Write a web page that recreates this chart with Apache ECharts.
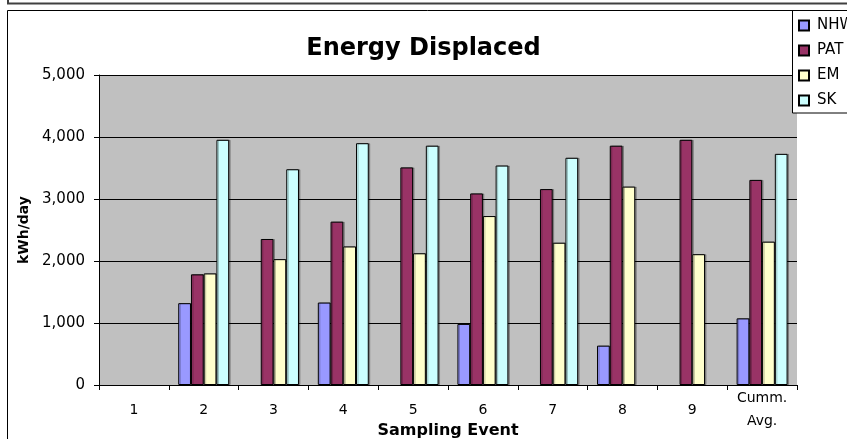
<!DOCTYPE html>
<html>
<head>
<meta charset="utf-8">
<script src="https://cdn.jsdelivr.net/npm/echarts@6/dist/echarts.min.js"></script>
<style>
html,body{margin:0;padding:0;background:#fff;}
#c{width:847px;height:439px;}
</style>
</head>
<body>
<div id="c"></div>
<script>
var categories = ['1','2','3','4','5','6','7','8','9','Cumm.\nAvg.'];
var yTicks = [0,1000,2000,3000,4000,5000];
var seriesNames = ['NHW','PAT','EM','SK'];
var nhw = [null,1320,null,1330,null,985,null,635,null,1075];
var pat = [null,1785,2355,2635,3510,3090,3160,3860,3955,3308];
var em  = [null,1800,2030,2235,2125,2725,2295,3200,2110,2312];
var sk  = [null,3955,3480,3900,3860,3540,3665,null,null,3728];
var colors = ['#9999FF','#993366','#FFFFCC','#CCFFFF'];

var FONT = 'DejaVu Sans';
var chart = echarts.init(document.getElementById('c'), null, {renderer:'canvas'});
var dataSets = [nhw, pat, em, sk];
var series = dataSets.map(function(d, i){
  return {
    name: seriesNames[i],
    type: 'bar',
    data: d,
    barGap: '0%',
    barCategoryGap: '27%',
    itemStyle: {
      color: colors[i],
      borderColor: '#000',
      borderWidth: 1,
      shadowColor: 'rgba(0,0,0,0.25)',
      shadowOffsetX: 1.5,
      shadowOffsetY: 0,
      shadowBlur: 0
    },
    emphasis: {disabled: true},
    animation: false
  };
});

chart.setOption({
  animation: false,
  backgroundColor: '#ffffff',
  title: {
    text: 'Energy Displaced',
    left: 'center',
    top: 32,
    textStyle: {fontFamily: FONT, fontWeight: 'bold', fontSize: 24, color: '#000', lineHeight: 24}
  },
  legend: {
    orient: 'vertical',
    left: 798,
    top: 18,
    padding: 0,
    itemGap: 10,
    itemWidth: 10,
    itemHeight: 10,
    icon: 'rect',
    z: 10,
    data: seriesNames,
    textStyle: {fontFamily: FONT, fontSize: 15, color: '#000', lineHeight: 15, padding: [0,0,0,3]}
  },
  grid: {
    left: 99, right: 50, top: 75, bottom: 54,
    containLabel: false,
    outerBoundsMode: 'none',
    show: true, backgroundColor: '#C0C0C0', borderWidth: 0
  },
  xAxis: {
    type: 'category',
    data: categories,
    name: 'Sampling Event',
    nameLocation: 'middle',
    nameGap: 38,
    nameMoveOverlap: false,
    nameTextStyle: {fontFamily: FONT, fontWeight: 'bold', fontSize: 16, color: '#000', lineHeight: 16, verticalAlign: 'top'},
    axisLine: {show: true, lineStyle: {color: '#000', width: 1}},
    axisTick: {show: true, length: 5, alignWithLabel: false, lineStyle: {color: '#000'}},
    axisLabel: {fontFamily: FONT, fontSize: 14, color: '#000', margin: 25, verticalAlign: 'middle', lineHeight: 23, interval: 0},
    splitLine: {show: false}
  },
  yAxis: {
    type: 'value',
    min: yTicks[0],
    max: yTicks[yTicks.length-1],
    interval: 1000,
    name: 'kWh/day',
    nameLocation: 'middle',
    nameRotate: 90,
    nameGap: 68,
    nameMoveOverlap: false,
    nameTextStyle: {fontFamily: FONT, fontWeight: 'bold', fontSize: 14, color: '#000'},
    axisLine: {show: true, lineStyle: {color: '#000', width: 1}},
    axisTick: {show: true, inside: false, length: 5, lineStyle: {color: '#000'}},
    axisLabel: {
      fontFamily: FONT, fontSize: 15, color: '#000', margin: 14,
      formatter: function(v){ return v.toLocaleString('en-US'); }
    },
    splitLine: {show: true, lineStyle: {color: '#000', width: 1}}
  },
  graphic: [
    {type: 'line', z: 20, shape: {x1: 8, y1: 0, x2: 8, y2: 4}, style: {stroke: '#404040', lineWidth: 2}},
    {type: 'line', z: 20, shape: {x1: 7, y1: 3.5, x2: 850, y2: 3.5}, style: {stroke: '#404040', lineWidth: 2}},
    {type: 'rect', z: 20, shape: {x: 7.5, y: 10.5, width: 900, height: 500}, style: {fill: 'none', stroke: '#000', lineWidth: 1}},
    {type: 'rect', z: 9, shape: {x: 792.5, y: 10.5, width: 100, height: 102.5}, style: {fill: '#fff', stroke: '#000', lineWidth: 1}}
  ],
  series: series
});
</script>
</body>
</html>
